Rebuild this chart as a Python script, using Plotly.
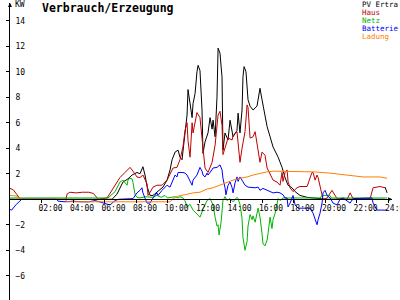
import plotly.graph_objects as go

# ---------------- data (hours, kW) ----------------
pv_t = [0, 6.48, 6.79, 7.17, 7.49, 7.75, 8.06, 8.25, 8.44, 8.57, 8.70, 8.89, 9.08, 9.33, 9.52, 9.71,
        9.97, 10.16, 10.29, 10.48, 10.67, 10.79, 10.92, 10.98, 11.11, 11.24, 11.30, 11.43, 11.56, 11.62,
        11.75, 11.87, 11.94, 12.06, 12.19, 12.25, 12.38, 12.57, 12.70, 12.83, 12.89, 13.02, 13.14, 13.21,
        13.33, 13.46, 13.52, 13.65, 13.84, 13.97, 14.16, 14.41, 14.48, 14.60, 14.73, 14.79, 14.86, 14.98,
        15.05, 15.11, 15.24, 15.43, 15.68, 15.81, 15.87, 16.00, 16.32, 16.51, 16.70, 17.02, 17.27, 17.46,
        17.65, 17.90, 18.10, 18.41, 18.86, 19.68, 20.0, 23.78, None, 23.81, 23.85, 23.90, 23.94]
pv_kw = [0, 0, 0.4, 1.35, 1.6, 1.9, 2.1, 2.0, 2.55, 1.9, 1.0, 0.3, 0.3, 0.55, 0.7, 0.95,
         1.5, 2.3, 3.1, 3.7, 3.85, 3.3, 3.1, 3.85, 5.2, 6.6, 8.6, 7.6, 6.4, 7.5,
         8.3, 10.0, 10.5, 10.1, 7.0, 3.6, 4.5, 5.2, 6.4, 5.5, 6.2, 4.9, 8.0, 11.85,
         11.45, 9.6, 3.85, 5.2, 4.65, 6.2, 4.9, 5.4, 6.75, 5.2, 7.0, 9.6, 10.4, 10.0,
         8.8, 7.8, 7.3, 7.0, 7.3, 8.2, 8.7, 7.8, 5.7, 4.9, 4.1, 3.3, 2.5, 1.7,
         1.1, 0.9, 0.6, 0.3, 0.15, 0.05, 0, 0, None, 0.95, 0.75, 0.7, 0.5]

haus_t = [0.0, 0.2, 0.45, 0.65, 3.55, 3.62, 3.8, 4.2, 4.6, 5.0, 5.3, 5.5, 5.6, 6.16, 6.54, 6.98, 7.30,
          7.62, 7.81, 8.06, 8.25, 8.44, 8.70, 8.76, 8.89, 9.08, 9.33, 9.65, 9.97, 10.16, 10.35, 10.60,
          10.79, 10.98, 11.11, 11.24, 11.30, 11.43, 11.56, 11.62, 11.87, 12.06, 12.25, 12.38, 12.57,
          12.83, 13.02, 13.21, 13.33, 13.46, 13.52, 13.65, 13.84, 14.10, 14.16, 14.41, 14.48, 14.60,
          14.73, 14.92, 15.05, 15.11, 15.24, 15.43, 15.56, 15.68, 15.87, 16.00, 16.19, 16.32, 16.51,
          16.70, 16.95, 17.14, 17.27, 17.33, 17.46, 17.59, 17.65, 17.78, 17.97, 18.22, 18.41, 18.86,
          19.17, 19.24, 19.37, 19.49, 19.56, 19.81, 19.87, 20.13, 20.44, 20.76, 21.40, 21.59, 21.80,
          22.86, 23.05, 23.49, 23.81]
haus_kw = [0.85, 0.75, 0.35, 0, 0, 0.4, 0.55, 0.5, 0.55, 0.55, 0.45, 0.1, 0, 0.1, 0.85, 1.7, 2.1,
           2.5, 2.2, 1.75, 1.7, 1.9, 1.2, 0.3, 0.55, 0.95, 1.1, 1.1, 1.5, 2.0, 2.45, 2.5,
           3.1, 4.1, 5.4, 6.0, 4.6, 3.3, 6.0, 5.2, 6.8, 6.4, 4.0, 2.45, 2.1,
           2.9, 4.25, 6.6, 6.9, 5.8, 3.5, 4.0, 4.8, 4.65, 5.0, 5.3, 4.25, 2.9,
           4.0, 5.3, 7.4, 7.2, 4.8, 4.9, 5.3, 4.25, 2.9, 3.7, 3.45, 2.45, 1.9,
           1.5, 1.35, 1.1, 2.1, 1.4, 2.1, 2.3, 1.4, 0.9, 0.6, 0.9, 1.0, 1.0,
           2.1, 2.1, 1.5, 1.9, 1.7, 0.5, 0, 0.1, 0.7, 0.05, 0, 0.5, 0,
           0.05, 0.9, 1.0, 0.9]

netz_t = [0, 6.22, 6.67, 6.98, 7.17, 7.43, 7.49, 7.62, 7.75, 7.81, 7.94, 8.06, 8.25, 8.6, 9.02, 9.33,
          9.6, 9.84, 10.0, 10.29, 10.48, 10.67, 10.79, 10.98, 11.1, 11.24, 11.43, 11.62, 11.87, 12.06,
          12.19, 12.25, 12.38, 12.51, 12.70, 12.89, 13.02, 13.14, 13.21, 13.27, 13.40, 13.46, 13.52,
          13.65, 13.78, 13.97, 14.16, 14.41, 14.48, 14.60, 14.73, 14.79, 14.92, 15.05, 15.11, 15.24,
          15.37, 15.43, 15.56, 15.75, 15.87, 16.00, 16.06, 16.19, 16.32, 16.38, 16.51, 16.63, 16.70,
          16.83, 16.95, 17.02, 17.14, 17.33, 17.6, 19.7, 19.8, 20.3, 20.4, 23.94]
netz_kw = [0.1, 0.1, 0.6, 1.35, 1.5, 1.1, 1.5, 1.65, 1.6, 1.3, 0.35, 0.15, 0.1, 0.2, 0.15, 0.3,
           0.15, 0.3, 0.1, 0.15, 0.2, 0.1, 0.2, 0.1, -0.1, -0.6, -0.4, -0.85, -1.2, -1.4,
           -1.0, -0.7, -0.45, -0.1, 0.05, -0.45, -1.4, -2.1, -2.0, -2.8, -1.8, -0.9, -0.1,
           0.2, -0.1, 0.05, -0.2, 0.15, 0.05, -0.4, -1.5, -3.0, -4.0, -3.3, -2.1, -1.2,
           -1.6, -1.3, -1.8, -0.7, -1.4, -2.7, -3.5, -3.65, -3.2, -2.7, -1.4, -2.3, -1.6,
           -1.1, -0.4, 0.05, -0.1, 0.1, 0.1, 0.1, 0.3, 0.3, 0.1, 0.1]

batt_t = [0, 0.1, 0.4, 0.75, 2.97, 3.05, 3.5, 4.0, 4.5, 5.0, 5.4, 5.71, 6.03, 6.35, 6.67, 6.9, 7.81,
          8.06, 8.25, 8.38, 8.44, 8.57, 8.70, 8.89, 9.08, 9.33, 9.40, 9.65, 9.84, 9.97, 10.16, 10.29,
          10.48, 10.60, 10.67, 10.98, 11.11, 11.24, 11.30, 11.43, 11.56, 11.62, 11.87, 12.06, 12.19,
          12.25, 12.38, 12.51, 12.57, 12.70, 12.89, 13.14, 13.33, 13.46, 13.52, 13.65, 13.71, 13.84,
          13.97, 14.10, 14.16, 14.29, 14.41, 14.48, 14.60, 14.73, 14.92, 15.11, 15.37, 15.56, 15.75,
          15.87, 16.06, 16.32, 16.51, 16.70, 16.95, 17.14, 17.33, 17.46, 17.59, 17.65, 17.78, 17.90,
          17.97, 18.10, 18.29, 18.60, 19.05, 19.24, 19.37, 19.49, 19.56, 19.68, 19.81, 19.87, 20.0,
          20.13, 20.32, 20.51, 20.76, 20.95, 21.14, 21.59, 21.78, 22.86, 22.98, 23.05, 23.30, 23.94]
batt_kw = [-0.8, -0.85, -0.4, 0, 0, -0.15, -0.2, -0.15, -0.2, -0.2, -0.1, -0.2, -0.3, -0.45, -0.1, 0, 0.05,
           0.5, 0.7, 0.9, 0.5, 0.1, -0.3, -0.3, 0.1, 0.5, 0.3, 0.7, 0.95, 1.1, 0.95, 1.35,
           1.9, 1.75, 2.1, 2.1, 2.05, 1.9, 1.75, 1.35, 1.1, 1.5, 1.9, 2.5, 2.2,
           1.9, 1.75, 2.05, 1.9, 2.1, 2.45, 2.5, 2.7, 2.3, 1.65, 0.9, 0.35, 1.1,
           1.35, 0.9, 0.5, 1.3, 1.75, 1.4, 1.75, 1.5, 1.1, 0.95, 0.9, 0.9, 0.95,
           0.7, 0.85, 0.7, 0.55, 0.5, 0.55, 0.5, 0.35, 0.1, 0.1, -0.6, -0.3, 0.0,
           0.3, -0.45, -0.7, -0.7, -0.7, -1.1, -1.6, -2.0, -1.6, -1.1, -0.3, 0.5, 0.7,
           0.3, 0.1, -0.3, -0.45, 0.0, 0.1, -0.3, 0.05, 0.05, 0.1, -0.3, -0.85, -0.85]

lad_t = [0, 0.45, 0.6, 3.5, 3.62, 10.16, 10.35, 10.67, 11.1, 11.62, 12.06, 12.51, 12.89, 13.33, 13.78,
         14.16, 14.60, 15.05, 15.43, 15.87, 16.32, 16.70, 17.14, 18.0, 18.41, 19.24, 20.32, 21.40,
         22.41, 23.49, 23.94]
lad_kw = [0.3, 0.25, 0, 0, -0.2, -0.2, 0.05, 0.25, 0.35, 0.5, 0.55, 0.8, 0.9, 1.1, 1.35,
          1.5, 1.65, 1.75, 1.9, 2.05, 2.15, 2.2, 2.2, 2.2, 2.2, 2.15, 2.05, 1.9,
          1.75, 1.75, 1.65]

series_names = ["PV Ertra", "Haus", "Netz", "Batterie", "Ladung"]
series_colors = ["#000000", "#c00000", "#00b400", "#0000ff", "#ff8000"]

hour_ticks = [2, 4, 6, 8, 10, 12, 14, 16, 18, 20, 22, 24]
hour_labels = ["02:00", "04:00", "06:00", "08:00", "10:00", "12:00",
               "14:00", "16:00", "18:00", "20:00", "22:00", "24:00"]
kw_ticks = [-8, -6, -4, -2, 2, 4, 6, 8, 10, 12, 14]

title_text = "Verbrauch/Erzeugung"
unit_text = "KW"

# ---------------- figure ----------------
FONT = "DejaVu Sans Mono"
X_RANGE = [0, 24.25]
Y_RANGE = [-7.9, 15.39]
zero_pos = (0 - Y_RANGE[0]) / (Y_RANGE[1] - Y_RANGE[0])

fig = go.Figure()
for t, v, name, col in zip([pv_t, haus_t, netz_t, batt_t, lad_t],
                           [pv_kw, haus_kw, netz_kw, batt_kw, lad_kw],
                           series_names, series_colors):
    fig.add_trace(go.Scatter(x=t, y=v, mode="lines", name=name,
                             line=dict(color=col, width=1), connectgaps=False,
                             hoverinfo="skip"))

fig.update_layout(
    width=400, height=300,
    margin=dict(l=10, r=8, t=3, b=0),
    paper_bgcolor="white", plot_bgcolor="white",
    showlegend=False,
    font=dict(family=FONT, size=8, color="black"),
    xaxis=dict(range=X_RANGE, anchor="free", position=zero_pos,
               showline=True, linecolor="black", linewidth=1,
               showgrid=False, zeroline=False,
               tickmode="array", tickvals=hour_ticks, ticktext=hour_labels,
               ticks="outside", ticklen=3, tickcolor="black",
               ticklabelshift=9, ticklabelstandoff=-2, ticklabeloverflow="allow",
               automargin=False,
               tickfont=dict(family=FONT, size=8, color="black")),
    xaxis2=dict(range=X_RANGE, overlaying="x", anchor="free", position=zero_pos,
                showline=False, showgrid=False, zeroline=False,
                tickmode="array", tickvals=hour_ticks, showticklabels=False,
                ticks="inside", ticklen=3, tickcolor="black"),
    yaxis=dict(range=Y_RANGE, showline=True, linecolor="black", linewidth=1,
               showgrid=False, zeroline=False,
               tickmode="array", tickvals=kw_ticks,
               ticks="outside", ticklen=3, tickcolor="black",
               ticklabelposition="inside", ticklabelstandoff=4,
               tickfont=dict(family=FONT, size=8, color="black")),
    yaxis2=dict(range=Y_RANGE, overlaying="y", anchor="free", position=0, side="left",
                showline=False, showgrid=False, zeroline=False,
                tickmode="array", tickvals=kw_ticks, showticklabels=False,
                ticks="inside", ticklen=3, tickcolor="black"),
)

annotations = [
    dict(xref="paper", yref="paper", x=(40 - 10) / 382, y=(300 - 8) / 297,
         xanchor="left", yanchor="middle", showarrow=False,
         text="<b>" + title_text + "</b>", font=dict(family=FONT, size=11.5, color="black")),
    dict(xref="paper", yref="paper", x=(13 - 10) / 382, y=(300 - 5) / 297,
         xanchor="left", yanchor="middle", showarrow=False,
         text=unit_text, font=dict(family=FONT, size=8, color="black")),
    # axis arrows
    dict(xref="x", yref="y", x=0, y=Y_RANGE[1], ax=0, ay=5, text="",
         showarrow=True, arrowhead=2, arrowsize=0.8, arrowwidth=1, arrowcolor="black"),
    dict(xref="x", yref="y", x=X_RANGE[1], y=0, ax=-5, ay=0, text="",
         showarrow=True, arrowhead=2, arrowsize=0.8, arrowwidth=1, arrowcolor="black"),
]
leg_y = [4.3, 12.3, 20.3, 28.3, 36.3]
for name, col, yp in zip(series_names, series_colors, leg_y):
    annotations.append(dict(xref="paper", yref="paper", x=(360 - 10) / 382, y=(300 - yp) / 297,
                            xanchor="left", yanchor="middle", showarrow=False,
                            text=name, font=dict(family=FONT, size=7.5, color=col)))
fig.update_layout(annotations=annotations)

fig.write_html("out.html")
